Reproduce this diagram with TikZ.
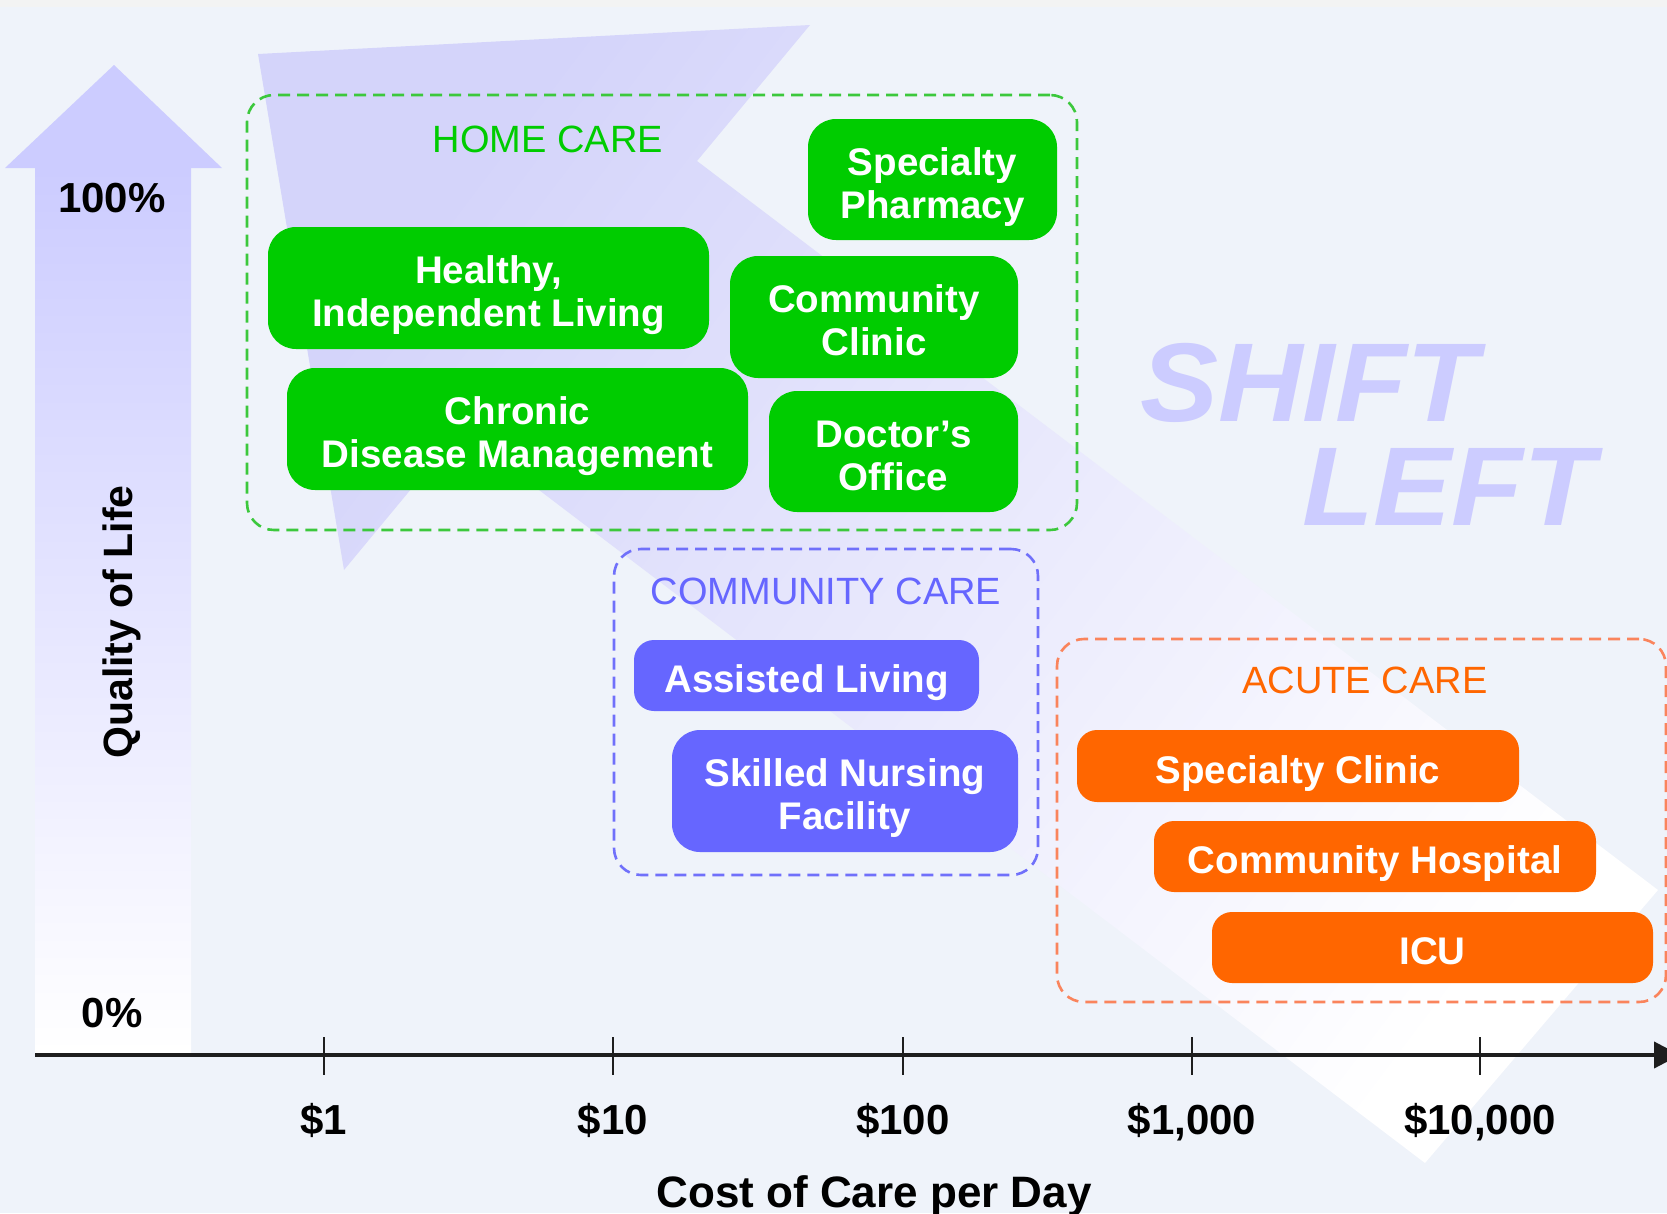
\documentclass[tikz,border=0pt]{standalone}
\usepackage{fontspec}
\setmainfont{Liberation Sans}
\usetikzlibrary{arrows.meta}
\definecolor{bg}{RGB}{239,243,250}
\definecolor{topstrip}{RGB}{243,243,243}
\definecolor{lav}{RGB}{204,204,255}
\definecolor{bigarrow}{RGB}{212,212,250}
\definecolor{hgreen}{RGB}{0,204,0}
\definecolor{hgreendash}{RGB}{60,200,60}
\definecolor{cblue}{RGB}{102,102,255}
\definecolor{cbluedash}{RGB}{112,112,250}
\definecolor{aorange}{RGB}{255,102,0}
\definecolor{aorangedash}{RGB}{250,132,92}
\definecolor{axisc}{RGB}{30,30,30}
\begin{document}
\begin{tikzpicture}[x=1pt,y=-1pt,
  every node/.style={inner sep=0pt, outer sep=0pt},
  boxtxt/.style={font=\fontsize{38.5}{43}\selectfont\bfseries, text=white, align=center, text height=34.5pt, text depth=0pt},
  twoline/.style={text height=77.5pt, text depth=0pt},
  greenbox/.style={boxtxt, fill=hgreen, rounded corners=28pt},
  bluebox/.style={boxtxt, fill=cblue, rounded corners=20pt},
  orangebox/.style={boxtxt, fill=aorange, rounded corners=20pt},
  grp/.style={dash pattern=on 12pt off 7pt, line width=2.6pt, rounded corners=27pt},
  grptitle/.style={font=\fontsize{38}{43}\selectfont, anchor=base},
  lbl/.style={font=\fontsize{42}{48}\selectfont\bfseries, anchor=base, text=black},
  tickline/.style={line width=2.6pt, draw=axisc},
  shifttxt/.style={font=\fontsize{112}{112}\selectfont\bfseries\itshape, text=lav, anchor=base west, xscale=1.046}
]
\useasboundingbox (0,0) rectangle (1667,1213);
\clip (0,0) rectangle (1667,1213);
% background
\fill[bg] (0,0) rectangle (1667,1213);
\fill[topstrip] (0,0) rectangle (1667,7);
% big diagonal "shift left" arrow
\shade[top color=bigarrow, bottom color=white, shading angle=52.9]
  (258,54) -- (810,25) -- (697,161) -- (1658,890) -- (1425,1163) -- (460,430) -- (344,570) -- cycle;
% vertical quality arrow
\shade[top color=lav, bottom color=white] (35,168) rectangle (191,1053);
\fill[lav] (5,168) -- (114,65) -- (222,168) -- cycle;
% SHIFT LEFT
\node[shifttxt] (shift) at (1140,421) {SHIFT};
\node[shifttxt] (left) at (1302,525) {LEFT};
% group frames
\node[grp, draw=hgreendash, minimum width=830pt, minimum height=435pt] (home) at (662,312.5) {};
\node[grp, draw=cbluedash, minimum width=424pt, minimum height=326pt] (community) at (826,712) {};
\node[grp, draw=aorangedash, minimum width=609pt, minimum height=363pt] (acute) at (1361.5,820.5) {};
% group titles
\node[grptitle, text=hgreen] (hometitle) at (548,152) {HOME CARE};
\node[grptitle, text=cblue] (commtitle) at (826,604) {COMMUNITY CARE};
\node[grptitle, text=aorange] (acutetitle) at (1365,693) {ACUTE CARE};
% home care boxes
\node[greenbox, twoline, minimum width=249pt, minimum height=121pt] (pharm) at (932.5,179.5) {Specialty\\Pharmacy};
\node[greenbox, twoline, minimum width=441pt, minimum height=122pt] (healthy) at (488.5,288) {Healthy,\\Independent Living};
\node[greenbox, twoline, minimum width=288pt, minimum height=122pt] (cclinic) at (874,317) {Community\\Clinic};
\node[greenbox, twoline, minimum width=461pt, minimum height=122pt] (chronic) at (517.5,429) {Chronic\\Disease Management};
\node[greenbox, twoline, minimum width=249pt, minimum height=121pt] (doctor) at (893.5,451.5) {Doctor’s\\Office};
% community care boxes
\node[bluebox, minimum width=345pt, minimum height=71pt] (assisted) at (806.5,675.5) {Assisted Living};
\node[bluebox, twoline, rounded corners=28pt, minimum width=346pt, minimum height=122pt] (skilled) at (845,791) {Skilled Nursing\\Facility};
% acute care boxes
\node[orangebox, minimum width=442pt, minimum height=72pt] (sclinic) at (1298,766) {Specialty Clinic};
\node[orangebox, minimum width=442pt, minimum height=71pt] (chosp) at (1375,856.5) {Community Hospital};
\node[orangebox, minimum width=441pt, minimum height=71pt] (icu) at (1432.5,947.5) {ICU};
% y axis labels
\node[lbl] (p100) at (112,212) {100\%};
\node[lbl] (p0) at (112,1027) {0\%};
\node[font=\fontsize{41}{48}\selectfont\bfseries, rotate=90, anchor=base] (qol) at (132,622) {Quality of Life};
% x axis
\coordinate (axstart) at (35,1055);
\coordinate (axend) at (1680,1055);
\draw[line width=4pt, draw=axisc, -{Triangle[length=26pt, width=26pt]}] (axstart) -- (axend);
\draw[tickline] (324,1037) -- (324,1075);
\draw[tickline] (613,1037) -- (613,1075);
\draw[tickline] (903,1037) -- (903,1075);
\draw[tickline] (1192,1037) -- (1192,1075);
\draw[tickline] (1480,1037) -- (1480,1075);
\node[lbl] (t1) at (324,1134) {\$1};
\node[lbl] (t2) at (613,1134) {\$10};
\node[lbl] (t3) at (903,1134) {\$100};
\node[lbl] (t4) at (1192,1134) {\$1,000};
\node[lbl] (t5) at (1480,1134) {\$10,000};
\node[font=\fontsize{44}{50}\selectfont\bfseries, anchor=base] (xtitle) at (874,1207) {Cost of Care per Day};
\end{tikzpicture}
\end{document}
